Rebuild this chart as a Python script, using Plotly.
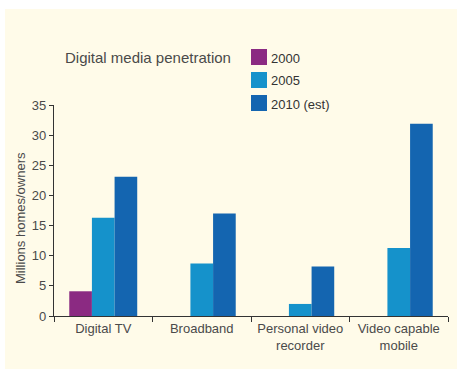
import plotly.graph_objects as go

categories = ["Digital TV", "Broadband", "Personal video<br>recorder", "Video capable<br>mobile"]
series_names = ["2000", "2005", "2010 (est)"]
values_2000 = [4.1, None, None, None]
values_2005 = [16.3, 8.7, 2.0, 11.3]
values_2010 = [23.1, 17.0, 8.2, 31.9]
y_ticks = [0, 5, 10, 15, 20, 25, 30, 35]
title_text = "Digital media penetration"
y_title = "Millions homes/owners"

colors = ["#8B2A82", "#1592CB", "#1465B0"]
cream = "#FFFBE9"
text_col = "#4a4a4a"
font_family = "Liberation Sans, Arial, Helvetica, sans-serif"

W, H = 457, 369
L, R, T, B = 54, 9, 105, 53
pw, ph = W - L - R, H - T - B

def px2x(px):
    return (px - L) / pw

def px2y(py):
    return (H - B - py) / ph

fig = go.Figure()
for name, vals, c in zip(series_names, [values_2000, values_2005, values_2010], colors):
    fig.add_trace(go.Bar(x=categories, y=vals, name=name, marker=dict(color=c, line=dict(width=0)),
                         showlegend=False))

shapes = [dict(type="rect", xref="paper", yref="paper", x0=px2x(5), x1=px2x(460),
               y0=px2y(372), y1=px2y(9), fillcolor=cream, line=dict(width=0), layer="below")]
annotations = [
    dict(text=title_text, xref="paper", yref="paper", x=px2x(63), y=px2y(57),
         xanchor="left", yanchor="middle", showarrow=False,
         font=dict(size=15, color=text_col, family=font_family)),
    dict(text=y_title, xref="paper", yref="paper", x=px2x(20), y=px2y(218),
         xanchor="center", yanchor="middle", showarrow=False, textangle=-90,
         font=dict(size=13, color=text_col, family=font_family)),
]
row_centers = [57, 80, 103]
for name, c, cy in zip(series_names, colors, row_centers):
    shapes.append(dict(type="rect", xref="paper", yref="paper", x0=px2x(251), x1=px2x(267),
                       y0=px2y(cy + 8), y1=px2y(cy - 8), fillcolor=c, line=dict(width=0)))
    annotations.append(dict(text=name, xref="paper", yref="paper", x=px2x(269), y=px2y(cy + 1),
                            xanchor="left", yanchor="middle", showarrow=False,
                            font=dict(size=13, color="#333333", family=font_family)))

fig.update_layout(
    width=W, height=H,
    margin=dict(l=L, r=R, t=T, b=B, autoexpand=False),
    barmode="group", bargap=0.31, bargroupgap=0,
    paper_bgcolor="white", plot_bgcolor="rgba(0,0,0,0)",
    font=dict(family=font_family, size=13, color=text_col),
    shapes=shapes, annotations=annotations,
    xaxis=dict(showline=True, linecolor="#333333", linewidth=1.2, ticks="outside",
               tickson="boundaries", ticklen=5, tickcolor="#333333", tickwidth=1,
               showgrid=False, zeroline=False, tickfont=dict(size=13, color=text_col)),
    yaxis=dict(range=[0, 35], tickvals=y_ticks, showline=True, linecolor="#333333", linewidth=1.2,
               ticks="outside", ticklen=4, tickcolor="#333333", showgrid=False, zeroline=False,
               tickfont=dict(size=13, color=text_col)),
)

fig.write_html("out.html")
